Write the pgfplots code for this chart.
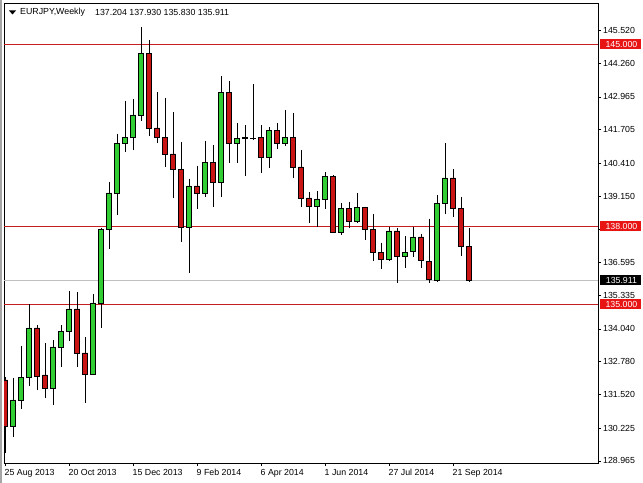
\documentclass[border=0pt]{standalone}
\usepackage{pgfplots}
\usepackage{pgfplotstable}
\pgfplotsset{compat=1.18}
\usepackage{fontspec}
\setmainfont{Liberation Sans}
\newcommand\mtfont{\fontsize{8.8bp}{10bp}\selectfont}
\definecolor{bull}{RGB}{50,205,50}
\definecolor{bear}{RGB}{200,20,20}
\definecolor{hline}{RGB}{196,30,30}
\definecolor{boxred}{RGB}{232,20,20}
\definecolor{pline}{RGB}{192,192,192}

\pgfplotstableread{
i O H L C
0 132.08 132.19 129.27 130.31
1 130.31 132.15 129.88 131.31
2 131.31 133.38 130.96 132.19
3 132.19 135.00 131.85 134.08
4 134.08 134.19 131.69 132.23
5 132.27 133.50 131.38 131.77
6 131.77 133.62 131.12 133.35
7 133.35 134.19 132.58 133.96
8 133.96 135.50 133.58 134.81
9 134.81 135.46 132.58 133.12
10 133.12 133.73 131.19 132.31
11 132.31 135.38 132.27 135.04
12 135.04 137.92 134.08 137.88
13 137.88 139.69 137.12 139.27
14 139.27 141.54 138.42 141.19
15 141.19 142.81 140.85 141.42
16 141.42 142.88 140.92 142.27
17 142.27 145.65 142.04 144.65
18 144.65 145.15 141.46 141.77
19 141.77 143.15 141.19 141.42
20 141.42 142.92 140.27 140.77
21 140.77 142.38 139.08 140.19
22 140.19 141.23 137.38 137.96
23 137.96 139.81 136.19 139.54
24 139.54 140.31 138.65 139.27
25 139.27 141.27 139.12 140.46
26 140.46 141.12 138.73 139.69
27 139.69 143.77 139.12 143.15
28 143.15 143.58 140.42 141.19
29 141.19 141.96 140.42 141.38
30 141.38 141.88 139.92 141.40
31 141.38 143.46 141.31 141.36
32 141.42 141.88 140.04 140.65
33 140.65 141.81 140.23 141.69
34 141.69 141.96 140.96 141.19
35 141.19 142.46 141.08 141.42
36 141.42 142.35 139.85 140.27
37 140.27 140.92 138.73 139.08
38 139.08 139.31 138.12 138.77
39 138.77 139.35 137.96 139.04
40 139.04 140.08 138.65 139.92
41 139.92 139.96 137.73 137.77
42 137.77 138.88 137.65 138.69
43 138.69 138.92 137.92 138.19
44 138.19 139.27 138.12 138.73
45 138.73 138.75 137.46 137.88
46 137.88 138.46 136.65 137.00
47 137.00 137.35 136.35 136.73
48 136.73 137.96 136.65 137.81
49 137.81 137.92 135.81 136.85
50 136.85 137.62 136.38 137.00
51 137.04 137.96 136.81 137.58
52 137.58 137.69 136.38 136.69
53 136.65 138.27 135.81 135.96
54 135.92 139.19 135.85 138.88
55 138.88 141.19 138.46 139.85
56 139.85 140.19 138.35 138.69
57 138.69 139.12 136.85 137.20
58 137.204 137.930 135.830 135.911
}\candles

\pgfplotsset{
  mtaxis/.style={
    at={(4bp,20bp)}, anchor=south west,
    scale only axis, width=594bp, height=460bp,
    xmin=-0.125, xmax=74.125, ymin=128.885, ymax=146.577,
  },
}
\tikzset{
  mtbox/.style={anchor=west, inner sep=0pt, minimum width=41bp, minimum height=10bp,
    font=\mtfont, text=white, xshift=2bp},
}

\begin{document}
\begin{tikzpicture}
\path[use as bounding box, fill=white] (0,0) rectangle (643bp,483bp);
\fill[black!35] (0,0) rectangle (1.5bp,483bp);

\begin{axis}[mtaxis,
  axis line style={black, line width=0.8bp},
  tick style={black, line width=0.8bp},
  tick align=outside, major tick length=3bp,
  xtick pos=bottom, ytick pos=right, yticklabel pos=right,
  xtick={0,8,16,24,32,40,48,56},
  xticklabels={25 Aug 2013,20 Oct 2013,15 Dec 2013,9 Feb 2014,6 Apr 2014,1 Jun 2014,27 Jul 2014,21 Sep 2014},
  ytick={145.520,144.260,142.965,141.705,140.410,139.150,137.855,136.595,135.335,134.040,132.780,131.520,130.225,128.965},
  yticklabels={145.520,144.260,142.965,141.705,140.410,139.150,{},136.595,135.335,134.040,132.780,131.520,130.225,128.965},
  x tick label style={anchor=north west, inner sep=0pt, font=\mtfont, xshift=-0.5bp, yshift=-3bp},
  y tick label style={anchor=west, inner sep=0pt, font=\mtfont, xshift=2bp},
]
\addplot[hline, line width=0.8bp, forget plot] coordinates {(-0.125,145) (74.125,145)};
\addplot[hline, line width=0.8bp, forget plot] coordinates {(-0.125,138) (74.125,138)};
\addplot[hline, line width=0.8bp, forget plot] coordinates {(-0.125,135) (74.125,135)};
\addplot[pline, line width=0.8bp, forget plot] coordinates {(-0.125,135.911) (74.125,135.911)};
\addplot[draw=none, no markers, forget plot,
  error bars/.cd, y dir=minus, y explicit, error mark=none,
  error bar style={draw=black, line width=0.9bp}]
  table[x=i, y=H, y error minus expr={\thisrow{H}-\thisrow{L}}] {\candles};
\end{axis}

\begin{axis}[mtaxis, axis lines=none, ticks=none, ybar stacked, bar width=5bp,
  after end axis/.code={
    \node[mtbox, fill=boxred] at ({rel axis cs:1,0}|-{axis cs:0,145}) {\,145.000};
    \node[mtbox, fill=boxred] at ({rel axis cs:1,0}|-{axis cs:0,138}) {\,138.000};
    \node[mtbox, fill=boxred] at ({rel axis cs:1,0}|-{axis cs:0,135}) {\,135.000};
    \node[mtbox, fill=black] at ({rel axis cs:1,0}|-{axis cs:0,135.911}) {\,135.911};
  }]
\addplot[draw=none, fill=none] table[x=i, y expr={min(\thisrow{O},\thisrow{C})}] {\candles};
\addplot[fill=bull, draw=black, line width=0.7bp] table[x=i, y expr={max(\thisrow{C}-\thisrow{O},0)}] {\candles};
\addplot[fill=bear, draw=black, line width=0.7bp] table[x=i, y expr={max(\thisrow{O}-\thisrow{C},0)}] {\candles};
\end{axis}

\fill[black] (9bp,472.5bp) -- (16bp,472.5bp) -- (12.5bp,468.5bp) -- cycle;
\node[anchor=west, inner sep=0pt, font=\mtfont] at (20bp,470.3bp) {EURJPY,Weekly};
\node[anchor=west, inner sep=0pt, font=\mtfont] at (95bp,470.3bp) {137.204 137.930 135.830 135.911};
\end{tikzpicture}
\end{document}
